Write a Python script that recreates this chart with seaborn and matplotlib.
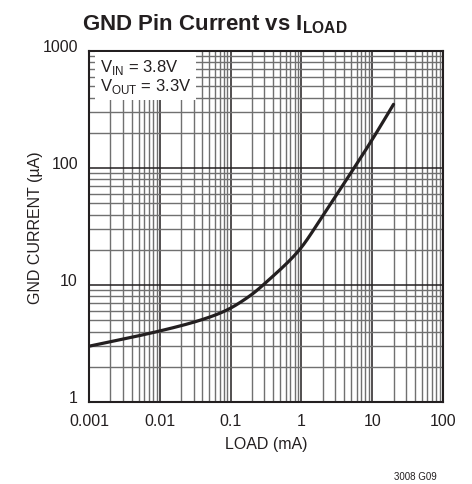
import numpy as np
import pandas as pd
import matplotlib
matplotlib.use("Agg")
import matplotlib.pyplot as plt
import matplotlib.transforms as mtransforms
import seaborn as sns
from matplotlib.ticker import LogLocator, FixedLocator, FixedFormatter, NullFormatter

load_ma = [0.001, 0.01, 0.037, 0.083, 0.188, 0.36, 0.77, 1.0, 2.0, 4.36, 10, 20]
gnd_ua = [3.0, 4.05, 5.0, 6.0, 8.1, 11.3, 17.5, 21.0, 39.0, 80.0, 175, 350]
x_ticks = [0.001, 0.01, 0.1, 1, 10, 100]
x_labels = ["0.001", "0.01", "0.1", "1", "10", "100"]
y_ticks = [1, 10, 100, 1000]
y_labels = ["1", "10", "100", "1000"]

sns.set_theme(style="white")
plt.rcParams['font.family'] = ['Liberation Sans', 'DejaVu Sans']
plt.rcParams['mathtext.fontset'] = 'custom'
plt.rcParams['mathtext.rm'] = 'Liberation Sans'
plt.rcParams['mathtext.bf'] = 'Liberation Sans:bold'

fig = plt.figure(figsize=(4.72, 4.85), dpi=100)
ax = fig.add_axes([0.1886, 0.169, 0.75, 0.7238])

df = pd.DataFrame({"load": load_ma, "gnd": gnd_ua})
lx = np.log10(df["load"].values)
ly = np.log10(df["gnd"].values)
xs = np.linspace(lx.min(), lx.max(), 400)

def pchip(x, y, xn):
    h = np.diff(x); d = np.diff(y) / h
    m = np.zeros_like(y)
    for k in range(1, len(y) - 1):
        if d[k-1] * d[k] > 0:
            w1 = 2*h[k] + h[k-1]; w2 = h[k] + 2*h[k-1]
            m[k] = (w1 + w2) / (w1/d[k-1] + w2/d[k])
    m[0] = d[0]; m[-1] = d[-1]
    idx = np.clip(np.searchsorted(x, xn) - 1, 0, len(x) - 2)
    t = (xn - x[idx]) / h[idx]
    h00 = 2*t**3 - 3*t**2 + 1; h10 = t**3 - 2*t**2 + t
    h01 = -2*t**3 + 3*t**2; h11 = t**3 - t**2
    return h00*y[idx] + h10*h[idx]*m[idx] + h01*y[idx+1] + h11*h[idx]*m[idx+1]

ys = pchip(lx, ly, xs)
curve = pd.DataFrame({"load": 10**xs, "gnd": 10**ys})

sns.lineplot(data=curve, x="load", y="gnd", ax=ax, color="#231f20", linewidth=2.3, zorder=5)

ax.set_xscale("log")
ax.set_yscale("log")
ax.set_xlim(0.001, 100)
ax.set_ylim(1, 1000)

ax.xaxis.set_major_locator(FixedLocator(x_ticks))
ax.xaxis.set_major_formatter(FixedFormatter(x_labels))
ax.yaxis.set_major_locator(FixedLocator(y_ticks))
ax.yaxis.set_major_formatter(FixedFormatter(y_labels))
ax.xaxis.set_minor_locator(LogLocator(base=10, subs=np.arange(2, 10), numticks=20))
ax.yaxis.set_minor_locator(LogLocator(base=10, subs=np.arange(2, 10), numticks=20))
ax.xaxis.set_minor_formatter(NullFormatter())
ax.yaxis.set_minor_formatter(NullFormatter())

ax.grid(which="major", color="#231f20", linewidth=1.1)
ax.grid(which="minor", color="#707070", linewidth=1.0)
ax.set_axisbelow(True)
ax.tick_params(which="both", length=0, labelsize=11.5, colors="#231f20")
ax.tick_params(axis="x", pad=8)
ax.tick_params(axis="y", pad=8)
for s in ax.spines.values():
    s.set_color("#231f20")
    s.set_linewidth(1.5)

# lift y tick labels slightly, as in the reference
offset = mtransforms.ScaledTranslation(0, 4/72, fig.dpi_scale_trans)
for lbl in ax.get_yticklabels():
    lbl.set_transform(lbl.get_transform() + offset)

ax.set_xlabel("LOAD (mA)", fontsize=11.5, color="#231f20", labelpad=6)
ax.set_ylabel("GND CURRENT (µA)", fontsize=11.5, color="#231f20")
ax.yaxis.set_label_coords(-0.13, 0.5)

ax.text(0.03, 0.983, "V$_{\\mathregular{IN}}$ = 3.8V\nV$_{\\mathregular{OUT}}$ = 3.3V",
        transform=ax.transAxes, ha="left", va="top", fontsize=12, color="#231f20",
        linespacing=1.0, zorder=6,
        bbox=dict(boxstyle="square,pad=0.3", facecolor="white", edgecolor="none"))

fig.text(0.456, 0.925, "GND Pin Current vs I$_{\\mathregular{LOAD}}$", ha="center", va="bottom",
         fontsize=16, fontweight="bold", color="#231f20")
fig.text(0.88, 0.017, "3008 G09", ha="center", va="center", fontsize=7, color="#231f20")

fig.savefig("out.png", dpi=100)
